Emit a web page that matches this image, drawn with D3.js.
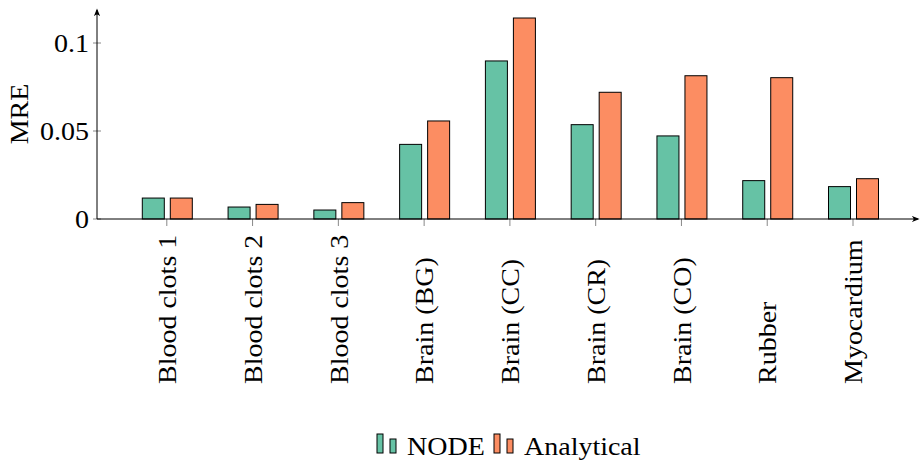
<!DOCTYPE html>
<html>
<head>
<meta charset="utf-8">
<script src="https://cdn.jsdelivr.net/npm/d3@7"></script>
<style>
  html, body { margin: 0; padding: 0; background: #fff; }
  svg { display: block; }
  text { font-family: "Liberation Serif", "DejaVu Serif", serif; fill: #000; }
</style>
</head>
<body>
<svg id="chart" width="922" height="462"></svg>
<script>
// Categories and per-method mean relative error
const categories = ["Blood clots 1", "Blood clots 2", "Blood clots 3", "Brain (BG)", "Brain (CC)",
                    "Brain (CR)", "Brain (CO)", "Rubber", "Myocardium"];
const seriesNames = ["NODE", "Analytical"];
const nodeValues = [0.0119, 0.0068, 0.0051, 0.0424, 0.0898, 0.0536, 0.0472, 0.0218, 0.0184];
const analyticalValues = [0.0119, 0.0083, 0.0093, 0.0557, 0.1142, 0.0720, 0.0814, 0.0803, 0.0229];
const seriesColors = ["#66c2a5", "#fc8d62"];
const yTickValues = [0, 0.05, 0.1];
const yTickLabels = ["0", "0.05", "0.1"];
const yLabel = "MRE";

const svg = d3.select("#chart");
const fontSize = 25;
const stretch = 1.12; // widen glyphs slightly for a roman, book-like look

const axisLeft = 97, axisRight = 918, axisBottom = 219, axisTop = 10;

const x = d3.scalePoint().domain(categories).range([167.3, 853.5]);
const xInner = d3.scaleBand().domain(seriesNames).range([-25, 25]).paddingInner(0.2143).paddingOuter(0);
const y = d3.scaleLinear().domain([0, 0.1]).range([axisBottom, 43]);

const rows = categories.map((c, i) => ({ cat: c, values: [nodeValues[i], analyticalValues[i]] }));

// Arrow marker for axes
const defs = svg.append("defs");
defs.append("marker")
  .attr("id", "arrow")
  .attr("viewBox", "0 0 10 10")
  .attr("refX", 8).attr("refY", 5)
  .attr("markerWidth", 8).attr("markerHeight", 8)
  .attr("markerUnits", "userSpaceOnUse")
  .attr("orient", "auto")
  .append("path")
  .attr("d", "M0,1 Q5,5 0,9 L10,5 Z")
  .attr("fill", "#000");

// Bars
const groups = svg.append("g").selectAll("g")
  .data(rows).join("g")
  .attr("transform", d => `translate(${x(d.cat)},0)`);

groups.selectAll("rect")
  .data(d => d.values.map((v, k) => ({ key: seriesNames[k], v, k })))
  .join("rect")
  .attr("x", d => xInner(d.key))
  .attr("width", xInner.bandwidth())
  .attr("y", d => y(d.v))
  .attr("height", d => y(0) - y(d.v))
  .attr("fill", d => seriesColors[d.k])
  .attr("stroke", "#000")
  .attr("stroke-width", 1);

// X tick marks
svg.append("g").selectAll("line")
  .data(categories).join("line")
  .attr("x1", d => x(d) - 0.5).attr("x2", d => x(d) - 0.5)
  .attr("y1", axisBottom).attr("y2", axisBottom + 7)
  .attr("stroke", "#888").attr("stroke-width", 1);

// Y tick marks
svg.append("g").selectAll("line")
  .data(yTickValues).join("line")
  .attr("x1", axisLeft - 4).attr("x2", axisLeft + 4)
  .attr("y1", d => y(d)).attr("y2", d => y(d))
  .attr("stroke", "#888").attr("stroke-width", 1);

// Axis lines with arrows
svg.append("line")
  .attr("x1", axisLeft).attr("x2", axisRight)
  .attr("y1", axisBottom).attr("y2", axisBottom)
  .attr("stroke", "#000").attr("stroke-width", 1)
  .attr("marker-end", "url(#arrow)");
svg.append("line")
  .attr("x1", axisLeft).attr("x2", axisLeft)
  .attr("y1", axisBottom).attr("y2", axisTop)
  .attr("stroke", "#000").attr("stroke-width", 1)
  .attr("marker-end", "url(#arrow)");

// Y tick labels
svg.append("g").selectAll("text")
  .data(yTickValues).join("text")
  .attr("transform", d => `translate(${axisLeft - 8},${y(d)}) scale(${stretch},1)`)
  .attr("dy", "0.35em")
  .attr("text-anchor", "end")
  .attr("font-size", fontSize)
  .text((d, i) => yTickLabels[i]);

// Y axis title
svg.append("text")
  .attr("transform", `translate(19,114) rotate(-90) scale(${stretch},1)`)
  .attr("text-anchor", "middle")
  .attr("dy", "0.35em")
  .attr("font-size", fontSize)
  .text(yLabel);

// Rotated category labels
svg.append("g").selectAll("text")
  .data(categories).join("text")
  .attr("transform", d => `translate(${x(d)},384) rotate(-90) scale(${stretch},1)`)
  .attr("text-anchor", "start")
  .attr("dy", "0.35em")
  .attr("font-size", fontSize)
  .text(d => d);

// Legend
const legendItems = [
  { name: seriesNames[0], color: seriesColors[0], x: 377 },
  { name: seriesNames[1], color: seriesColors[1], x: 494 }
];
const lg = svg.append("g").selectAll("g").data(legendItems).join("g")
  .attr("transform", d => `translate(${d.x},0)`);
lg.append("rect").attr("x", 0).attr("y", 434).attr("width", 6).attr("height", 19)
  .attr("fill", d => d.color).attr("stroke", "#000").attr("stroke-width", 1);
lg.append("rect").attr("x", 13).attr("y", 439).attr("width", 6).attr("height", 14)
  .attr("fill", d => d.color).attr("stroke", "#000").attr("stroke-width", 1);
lg.append("text")
  .attr("transform", `translate(30,455) scale(${stretch},1)`)
  .attr("font-size", fontSize)
  .text(d => d.name);
</script>
</body>
</html>
